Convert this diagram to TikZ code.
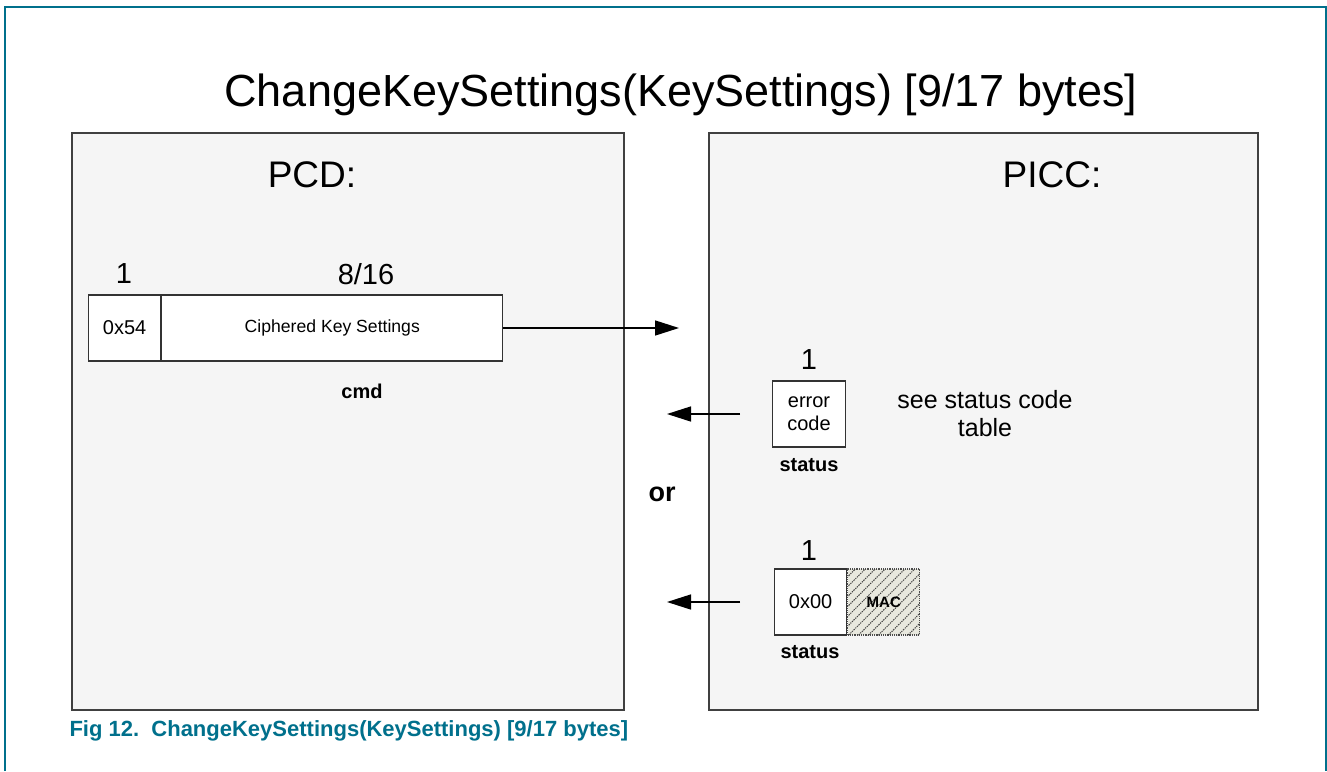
\documentclass[tikz,border=0pt]{standalone}
\usepackage{fontspec}
\setmainfont{Liberation Sans}
\usetikzlibrary{arrows.meta,patterns.meta}
\definecolor{nxpteal}{RGB}{0,112,140}
\definecolor{macfill}{RGB}{232,232,222}
\tikzset{
  panel/.style={fill=black!4, draw=black!75, line width=1.5pt},
  field/.style={draw=black!80, fill=white, line width=1.2pt, minimum height=66pt,
    inner sep=0pt, font=\fontsize{20}{23}\selectfont},
  msg/.style={-{Triangle[length=24pt,width=15pt]}, line width=1.5pt},
  bytes/.style={font=\fontsize{29}{34}\selectfont},
  tag/.style={font=\bfseries\fontsize{20}{24}\selectfont}
}

\begin{document}
\begin{tikzpicture}[x=1pt,y=-1pt]
            \useasboundingbox (0,0) rectangle (1327,771);
            \draw[nxpteal, line width=1.5pt] (5,771) -- (5,7) -- (1326,7) -- (1326,771);
            \node (title) at (681,95) {\fontsize{45}{54}\selectfont ChangeKeySettings(KeySettings) [9/17 bytes]};
            \draw[panel] (72,133) rectangle (624,710);
            \draw[panel] (709,133) rectangle (1258,710);
            \node (pcd) at (312,175) {\fontsize{37}{44}\selectfont PCD:};
            \node (picc) at (1052,175) {\fontsize{37}{44}\selectfont PICC:};
            % command frame
            \node[field, minimum width=72pt, anchor=west] (cmdcode) at (88,328) {0x54};
            \node[field, minimum width=341pt, anchor=west, font=\fontsize{17.6}{21}\selectfont] (cmdkey) at (cmdcode.east) {Ciphered Key Settings};
            \node[bytes] (cmdn1) at (124,274) {1};
            \node[bytes] (cmdn2) at (366,274) {8/16};
            \node[tag] (cmd) at (362,391) {cmd};
            \coordinate (cmdend) at (679,328);
            \draw[msg] (cmdkey.east) -- (cmdend);
            % error answer
            \node[field, minimum width=73pt, align=center] (errcode) at (809,414) {error\\code};
            \node[bytes] (errn) at (809,360) {1};
            \node[tag] (errtag) at (809,465) {status};
            \node[align=center, font=\fontsize{25}{28}\selectfont] (errnote) at (985,414) {see status code\\table};
            \coordinate (errstart) at (740,414);
            \coordinate (errend) at (667,414);
            \draw[msg] (errstart) -- (errend);
            \node[font=\bfseries\fontsize{27}{32}\selectfont] (or) at (662,494) {or};
            % ok answer
            \node[field, minimum width=72pt, anchor=west] (okcode) at (774,602) {0x00};
            \node[field, minimum width=72pt, anchor=west, draw=black!70, densely dotted, fill=macfill,
              postaction={pattern={Lines[angle=45,distance=7pt,line width=1pt]}, pattern color=black!75},
              font=\bfseries\fontsize{15}{18}\selectfont] (okmac) at (okcode.east) {MAC};
            \node[bytes] (okn) at (809,551) {1};
            \node[tag] (oktag) at (810,652) {status};
            \coordinate (okstart) at (740,602);
            \coordinate (okend) at (667,602);
            \draw[msg] (okstart) -- (okend);
            \node[anchor=west, text=nxpteal, font=\bfseries\fontsize{22}{26}\selectfont] (caption) at (66,731) {Fig 12.\ \ ChangeKeySettings(KeySettings) [9/17 bytes]};
        \end{tikzpicture}
\end{document}
